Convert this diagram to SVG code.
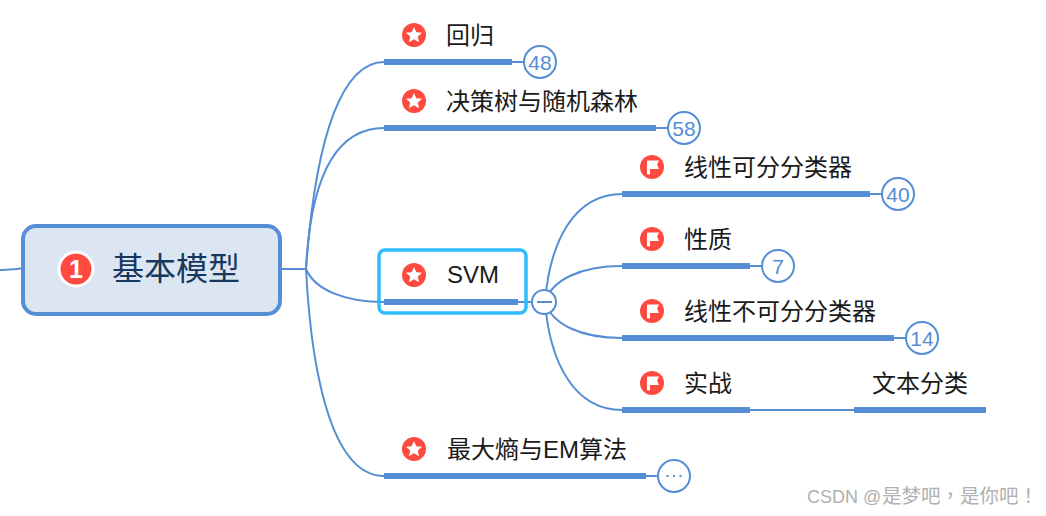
<svg xmlns="http://www.w3.org/2000/svg" width="1046" height="516" viewBox="0 0 1046 516">
<style>
text{font-family:"Liberation Sans","Noto Sans CJK SC",sans-serif}
.c{fill:none;stroke:#558ed5;stroke-width:2}
.u{fill:#558ed5;stroke:none}
.l{font-size:24px;fill:#1a1a1a}
.b{fill:#fff;stroke:#558ed5;stroke-width:2}
.n{font-size:21px;fill:#558ed5;text-anchor:middle}
.i{fill:#ff4a40}
.w{fill:#fff}
</style>
<defs>
<g id="star"><circle class="i" r="12"/><path class="w" d="M0-8 2.300-2.800 8-2.200 3.800 1.600 5 7.200 0 4.300-5 7.200-3.800 1.600-8-2.200-2.300-2.800Z"/></g>
<g id="flag"><circle class="i" r="12"/><path class="w" d="M-5-6.500H7L5-2.500 7 2H-2V7.500H-5Z"/></g>
</defs>
<g id="connectors">
<path class="c" d="M0 270C8 270 14 269 22 268.500"/>
<path class="c" d="M281 269H306"/>
<path class="c" d="M306 269C316 130 344 62 384 62"/>
<path class="c" d="M306 269C310 190 330 128 384 128"/>
<path class="c" d="M306 269C315 290 345 302 384 302"/>
<path class="c" d="M306 269C312 385 335 476 384 476"/>
<path class="c" d="M518 302H533"/>
<path class="c" d="M545 302C550 240 575 194 622 194"/>
<path class="c" d="M545 302C552 280 580 266 622 266"/>
<path class="c" d="M545 302C552 324 580 338 622 338"/>
<path class="c" d="M545 302C550 364 575 410 622 410"/>
<path class="c" d="M512 62H524M656 128H668M870 194H882M750 266H762M894 338H906M646 476H658M750 410H854"/>
</g>
<g id="root">
<rect x="23" y="226" width="257" height="88" rx="13" fill="#dce6f2" stroke="#558ed5" stroke-width="4"/>
<circle cx="76" cy="269" r="17" fill="#ff4a40" stroke="#fff" stroke-width="3"/>
<text x="76" y="278" font-size="25" font-weight="700" fill="#fff" text-anchor="middle">1</text>
<text x="112" y="280" font-size="32" fill="#17375e">基本模型</text>
</g>
<g id="n-regression">
<use href="#star" x="414" y="35"/><text class="l" x="446" y="44">回归</text>
<rect class="u" x="384" y="59" width="128" height="6"/>
<circle class="b" cx="540" cy="62" r="16"/><text class="n" x="540" y="69.500">48</text>
</g>
<g id="n-tree">
<use href="#star" x="414" y="101"/><text class="l" x="446" y="110">决策树与随机森林</text>
<rect class="u" x="384" y="125" width="272" height="6"/>
<circle class="b" cx="684" cy="128" r="16"/><text class="n" x="684" y="135.500">58</text>
</g>
<g id="n-svm">
<rect x="379" y="250" width="147" height="63" rx="6" fill="none" stroke="#2ebcff" stroke-width="3.500"/>
<use href="#star" x="414" y="275"/><text class="l" x="447" y="283">SVM</text>
<rect class="u" x="384" y="299" width="134" height="6"/>
<circle class="b" cx="544" cy="302" r="12"/><path d="M537 302H552" stroke="#558ed5" stroke-width="2"/>
</g>
<g id="n-linear">
<use href="#flag" x="652" y="167"/><text class="l" x="684" y="176">线性可分分类器</text>
<rect class="u" x="622" y="191" width="248" height="6"/>
<circle class="b" cx="898" cy="194" r="16"/><text class="n" x="898" y="201.500">40</text>
</g>
<g id="n-property">
<use href="#flag" x="652" y="239"/><text class="l" x="684" y="248">性质</text>
<rect class="u" x="622" y="263" width="128" height="6"/>
<circle class="b" cx="778" cy="266" r="16"/><text class="n" x="778" y="273.500">7</text>
</g>
<g id="n-nonlinear">
<use href="#flag" x="652" y="311"/><text class="l" x="684" y="320">线性不可分分类器</text>
<rect class="u" x="622" y="335" width="272" height="6"/>
<circle class="b" cx="922" cy="338" r="16"/><text class="n" x="922" y="345.500">14</text>
</g>
<g id="n-practice">
<use href="#flag" x="652" y="383"/><text class="l" x="684" y="392">实战</text>
<rect class="u" x="622" y="407" width="128" height="6"/>
</g>
<g id="n-text-class">
<text class="l" x="872" y="392">文本分类</text>
<rect class="u" x="854" y="407" width="132" height="6"/>
</g>
<g id="n-maxent">
<use href="#star" x="414" y="449"/><text class="l" x="447" y="458">最大熵与EM算法</text>
<rect class="u" x="384" y="473" width="262" height="6"/>
<circle class="b" cx="674" cy="476" r="16"/><path d="M666.500 476h2M673 476h2M679.500 476h2" stroke="#558ed5" stroke-width="2" fill="none"/>
</g>
<text x="807" y="503" font-size="18" fill="#b0b0b0">CSDN @<tspan x="882" font-size="19.500">是梦吧<tspan font-family="Noto Sans CJK TC">，</tspan>是你吧<tspan font-family="Noto Sans CJK TC">！</tspan></tspan></text>
</svg>
